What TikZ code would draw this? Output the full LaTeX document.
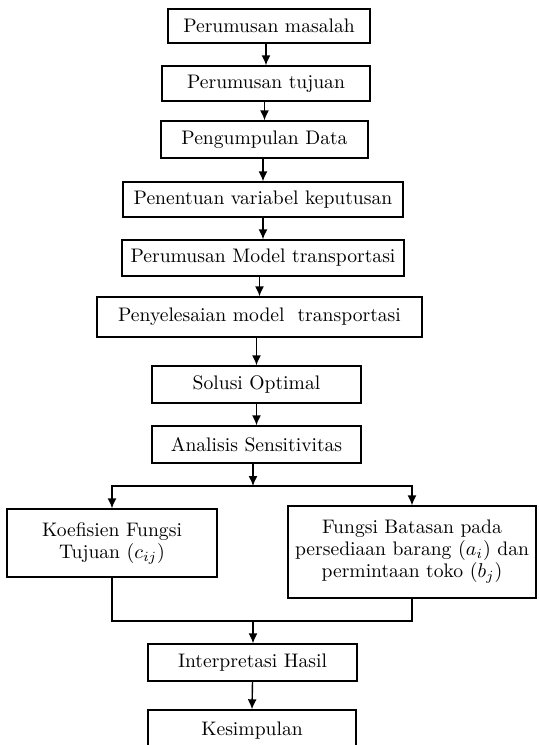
\documentclass[tikz,border=0pt]{standalone}
\usetikzlibrary{%
  arrows.meta,
  calc
}
\tikzset{>={Latex[length=5pt,width=4.5pt]}}

\begin{document}
\begin{tikzpicture}[x=0.5pt,y=-0.5pt,
    line width=0.7pt,
    box/.style 2 args={draw, inner sep=0pt, align=center,
      font=\fontsize{9.8}{11}\selectfont,
      minimum width=#1*0.5pt, minimum height=#2*0.5pt}]

  \useasboundingbox (0,0) rectangle (538,745);

  \node[box={202}{34}] (masalah)   at (269,26)    {Perumusan masalah};
  \node[box={208}{35}] (tujuan)    at (266,83.5)  {Perumusan tujuan};
  \node[box={207}{37}] (data)      at (264.5,139.5) {Pengumpulan Data};
  \node[box={280}{35}] (variabel)  at (263,199.5) {Penentuan variabel keputusan};
  \node[box={282}{36}] (model)     at (263,258)   {Perumusan Model transportasi};
  \node[box={325}{40}] (selesai)   at (259.5,317) {Penyelesaian model\ \ transportasi};
  \node[box={209}{37}] (optimal)   at (256.5,384.5) {Solusi Optimal};
  \node[box={209}{37}] (analisis)  at (256.5,444.5) {Analisis Sensitivitas};
  \node[box={210}{68}] (koefisien) at (112,543)
    {Koefisien Fungsi\\Tujuan $(c_{ij})$};
  \node[box={248}{92}] (batasan)   at (412,552)
    {Fungsi Batasan pada\\persediaan barang $(a_i)$ dan\\permintaan toko $(b_j)$};
  \node[box={209}{37}] (hasil)     at (252.5,662.5) {Interpretasi Hasil};
  \node[box={208}{42}] (simpulan)  at (252,731)   {Kesimpulan};

  \coordinate (cabang) at (253,486);
  \coordinate (gabung) at (253,621);

  \draw[->] (masalah.south -| tujuan.north) -- (tujuan.north);
  \draw[->] (tujuan.south -| data.north) -- (data.north);
  \draw[->] (data.south -| variabel.north) -- (variabel.north);
  \draw[->] (variabel.south -| model.north) -- (model.north);
  \draw[->] (model.south -| selesai.north) -- (selesai.north);
  \draw[->] (selesai.south -| optimal.north) -- (optimal.north);
  \draw[->] (optimal.south) -- (analisis.north);

  \draw[->] (analisis.south -| cabang) -- (cabang);
  \draw[->] (cabang) -| (koefisien.north);
  \draw[->] (cabang) -| (batasan.north);

  \draw (koefisien.south) |- (gabung);
  \draw (batasan.south) |- (gabung);
  \draw[->] (gabung) -- (hasil.north -| gabung);
  \draw[->] (hasil.south) -- (simpulan.north);

\end{tikzpicture}
\end{document}
